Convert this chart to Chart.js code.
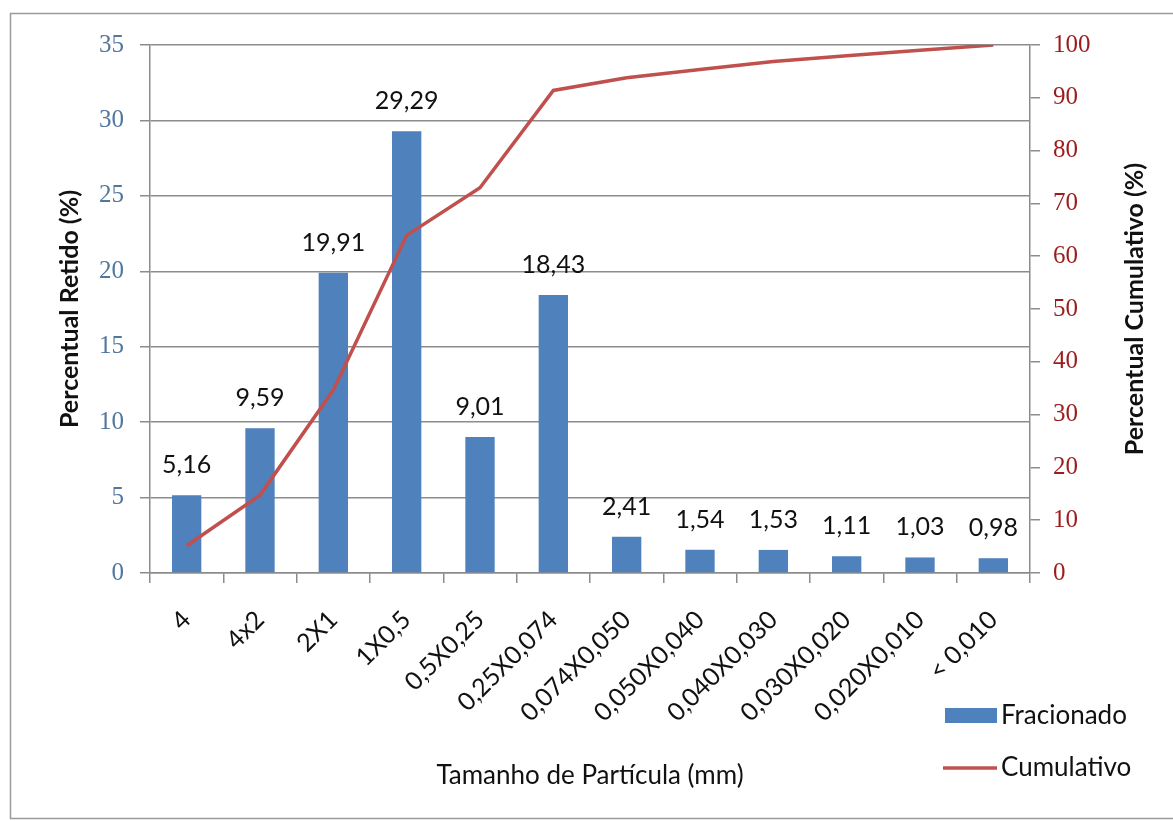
<!DOCTYPE html>
<html>
<head>
<meta charset="utf-8">
<script src="https://cdn.jsdelivr.net/npm/chart.js@4"></script>
<style>
  body { margin: 0; background: #fff; }
  #wrap { width: 1173px; height: 821px; position: relative; }
</style>
</head>
<body>
<div id="wrap"><canvas id="chart"></canvas></div>
<script>
'use strict';

// ****************************************
//            CHART DATA
// ****************************************

const categories = ['4', '4x2', '2X1', '1X0,5', '0,5X0,25', '0,25X0,074', '0,074X0,050',
  '0,050X0,040', '0,040X0,030', '0,030X0,020', '0,020X0,010', '< 0,010'];
const fracionado = [5.16, 9.59, 19.91, 29.29, 9.01, 18.43, 2.41, 1.54, 1.53, 1.11, 1.03, 0.98];
const cumulativo = [5.16, 14.75, 34.66, 63.95, 72.96, 91.39, 93.80, 95.34, 96.87, 97.98, 99.01, 99.99];
const leftTicks = [0, 5, 10, 15, 20, 25, 30, 35];
const rightTicks = [0, 10, 20, 30, 40, 50, 60, 70, 80, 90, 100];

const BLUE = '#4F81BD';
const RED = '#C0504D';
const GRID = '#8c8c8c';
const SANS = 'Lato, "Open Sans", sans-serif';
const SERIF = '"Liberation Serif", "DejaVu Serif", serif';

// ****************************************
//            HELPER FUNCTIONS
// ****************************************

function fmt(v) {
  return v.toFixed(2).replace('.', ',');
}

// labels above the bars
const barLabels = {
  id: 'barLabels',
  afterDatasetsDraw(chart) {
    const ctx = chart.ctx;
    const meta = chart.getDatasetMeta(0);
    ctx.save();
    ctx.font = '25px ' + SANS;
    ctx.fillStyle = '#111';
    ctx.textAlign = 'center';
    ctx.textBaseline = 'alphabetic';
    meta.data.forEach((bar, i) => {
      ctx.fillText(fmt(fracionado[i]), bar.x, bar.y - 22);
    });
    ctx.restore();
  }
};

// outer frame, right axis title (reads bottom to top) and legend
const frameLegend = {
  id: 'frameLegend',
  afterDraw(chart) {
    const ctx = chart.ctx;
    const area = chart.chartArea;
    ctx.save();
    ctx.strokeStyle = '#9a9a9a';
    ctx.lineWidth = 1.5;
    ctx.beginPath();
    ctx.moveTo(1173, 13.5);
    ctx.lineTo(10.5, 13.5);
    ctx.lineTo(10.5, 818.5);
    ctx.lineTo(1173, 818.5);
    ctx.stroke();

    // right title
    ctx.save();
    ctx.translate(1135, (area.top + area.bottom) / 2);
    ctx.rotate(-Math.PI / 2);
    ctx.font = 'bold 25px ' + SANS;
    ctx.fillStyle = '#111';
    ctx.textAlign = 'center';
    ctx.textBaseline = 'middle';
    ctx.fillText('Percentual Cumulativo (%)', 0, 0);
    ctx.restore();

    const ds = chart.data.datasets;
    ctx.font = '26px ' + SANS;
    ctx.textBaseline = 'middle';
    ctx.textAlign = 'left';
    ctx.fillStyle = ds[0].backgroundColor;
    ctx.fillRect(945, 708, 52, 15);
    ctx.fillStyle = '#111';
    ctx.fillText(ds[0].label, 1001, 716);

    ctx.strokeStyle = ds[1].borderColor;
    ctx.lineWidth = 3.5;
    ctx.beginPath();
    ctx.moveTo(943, 768);
    ctx.lineTo(997, 768);
    ctx.stroke();
    ctx.fillText(ds[1].label, 1001, 768);
    ctx.restore();
  }
};

// ****************************************
//            CHART RENDERING
// ****************************************

const ctx = document.getElementById('chart');

new Chart(ctx, {
  data: {
    labels: categories,
    datasets: [{
      type: 'bar',
      label: 'Fracionado',
      data: fracionado,
      yAxisID: 'y',
      backgroundColor: BLUE,
      categoryPercentage: 1,
      barPercentage: 0.4,
      order: 1
    }, {
      type: 'line',
      label: 'Cumulativo',
      data: cumulativo,
      yAxisID: 'y1',
      borderColor: RED,
      borderWidth: 3.5,
      pointRadius: 0,
      tension: 0,
      order: 0
    }]
  },
  options: {
    responsive: true,
    maintainAspectRatio: false,
    animation: false,
    layout: { padding: { left: 10, right: 0, top: 45, bottom: 0 } },
    plugins: {
      legend: { display: false },
      tooltip: { enabled: false }
    },
    scales: {
      x: {
        grid: { drawOnChartArea: false, color: GRID, tickLength: 10, lineWidth: 1.5 },
        border: { color: GRID, width: 1.5 },
        ticks: {
          color: '#111',
          font: { family: SANS, size: 25 },
          minRotation: 45,
          maxRotation: 45,
          autoSkip: false,
          padding: 22
        },
        title: {
          display: true,
          text: 'Tamanho de Partícula (mm)',
          color: '#111',
          font: { family: SANS, size: 26 },
          padding: { top: 0, bottom: 30 }
        },
        afterFit(scale) { scale.height = 248; }
      },
      y: {
        position: 'left',
        min: 0,
        max: 35,
        afterBuildTicks(scale) { scale.ticks = leftTicks.map(v => ({ value: v })); },
        grid: { color: GRID, tickLength: 10, lineWidth: 1.5 },
        border: { color: GRID, width: 1.5 },
        ticks: {
          color: '#52779f',
          font: { family: SERIF, size: 25 },
          padding: 16
        },
        title: {
          display: true,
          text: 'Percentual Retido (%)',
          color: '#111',
          font: { family: SANS, size: 25, weight: 'bold' },
          padding: { top: 45, bottom: 0 }
        },
        afterFit(scale) { scale.width = 140; }
      },
      y1: {
        position: 'right',
        min: 0,
        max: 100,
        afterBuildTicks(scale) { scale.ticks = rightTicks.map(v => ({ value: v })); },
        grid: { drawOnChartArea: false, color: GRID, tickLength: 10, lineWidth: 1.5 },
        border: { color: GRID, width: 1.5 },
        ticks: {
          color: '#9c1c1c',
          font: { family: SERIF, size: 25 },
          padding: 13
        },
        afterFit(scale) { scale.width = 143; }
      }
    }
  },
  plugins: [barLabels, frameLegend]
});
</script>
</body>
</html>
